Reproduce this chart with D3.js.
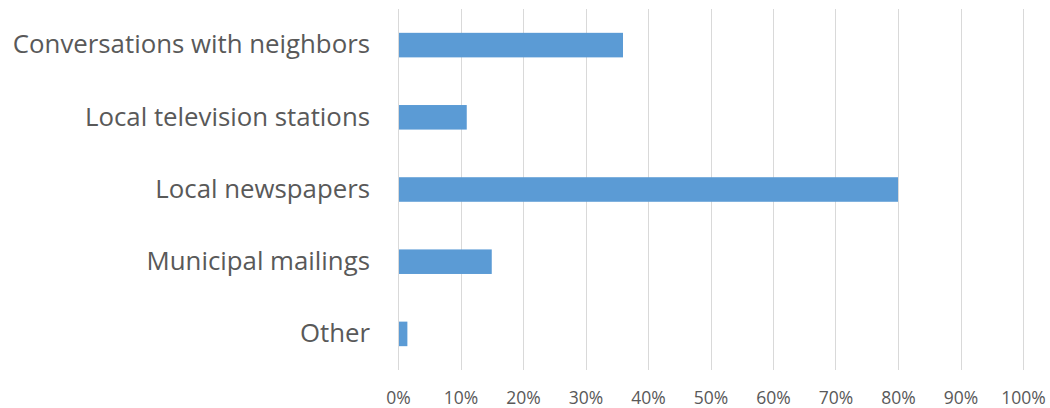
<!DOCTYPE html>
<html>
<head>
<meta charset="utf-8">
<script src="https://cdn.jsdelivr.net/npm/d3@7"></script>
<style>
  html, body { margin: 0; padding: 0; background: #fff; }
  svg { display: block; }
  text { font-family: "Open Sans", "Noto Sans", sans-serif; fill: #595959; }
</style>
</head>
<body>
<svg id="chart" width="1050" height="408"></svg>
<script>
// Share of respondents by information source
const categories = [
  "Conversations with neighbors",
  "Local television stations",
  "Local newspapers",
  "Municipal mailings",
  "Other"
];
const shares = [0.36, 0.11, 0.80, 0.15, 0.015];
const tickValues = [0, 0.1, 0.2, 0.3, 0.4, 0.5, 0.6, 0.7, 0.8, 0.9, 1.0];

const width = 1050, height = 408;
const margin = { top: 9, right: 27, bottom: 38, left: 398 };

const svg = d3.select("#chart");

const x = d3.scaleLinear()
  .domain([0, 1])
  .range([margin.left, width - margin.right]);

const y = d3.scaleBand()
  .domain(categories)
  .range([margin.top, height - margin.bottom])
  .paddingInner(0.66)
  .paddingOuter(0.33);

// Vertical gridlines
svg.append("g")
  .selectAll("line")
  .data(tickValues)
  .join("line")
  .attr("x1", d => Math.round(x(d)) + 0.5)
  .attr("x2", d => Math.round(x(d)) + 0.5)
  .attr("y1", margin.top)
  .attr("y2", height - margin.bottom)
  .attr("stroke", "#d9d9d9")
  .attr("stroke-width", 1);

// Bars
svg.append("g")
  .selectAll("rect")
  .data(categories)
  .join("rect")
  .attr("x", x(0) + 1)
  .attr("y", d => y(d))
  .attr("width", (d, i) => x(shares[i]) - x(0) - 1)
  .attr("height", y.bandwidth())
  .attr("fill", "#5b9bd5");

// X axis tick labels
const xAxis = d3.axisBottom(x)
  .tickValues(tickValues)
  .tickFormat(d3.format(".0%"))
  .tickSize(0)
  .tickPadding(0);

const gx = svg.append("g")
  .attr("transform", "translate(0,404)")
  .call(xAxis);
gx.select(".domain").remove();
gx.selectAll("text")
  .attr("dy", 0)
  .style("font-size", "17.5px")
  .style("fill", "#595959");

// Y axis category labels
const yAxis = d3.axisLeft(y)
  .tickSize(0)
  .tickPadding(28);

const gy = svg.append("g")
  .attr("transform", `translate(${margin.left},0)`)
  .call(yAxis);
gy.select(".domain").remove();
gy.selectAll("text")
  .style("font-size", "25.8px")
  .style("fill", "#595959");
</script>
</body>
</html>
